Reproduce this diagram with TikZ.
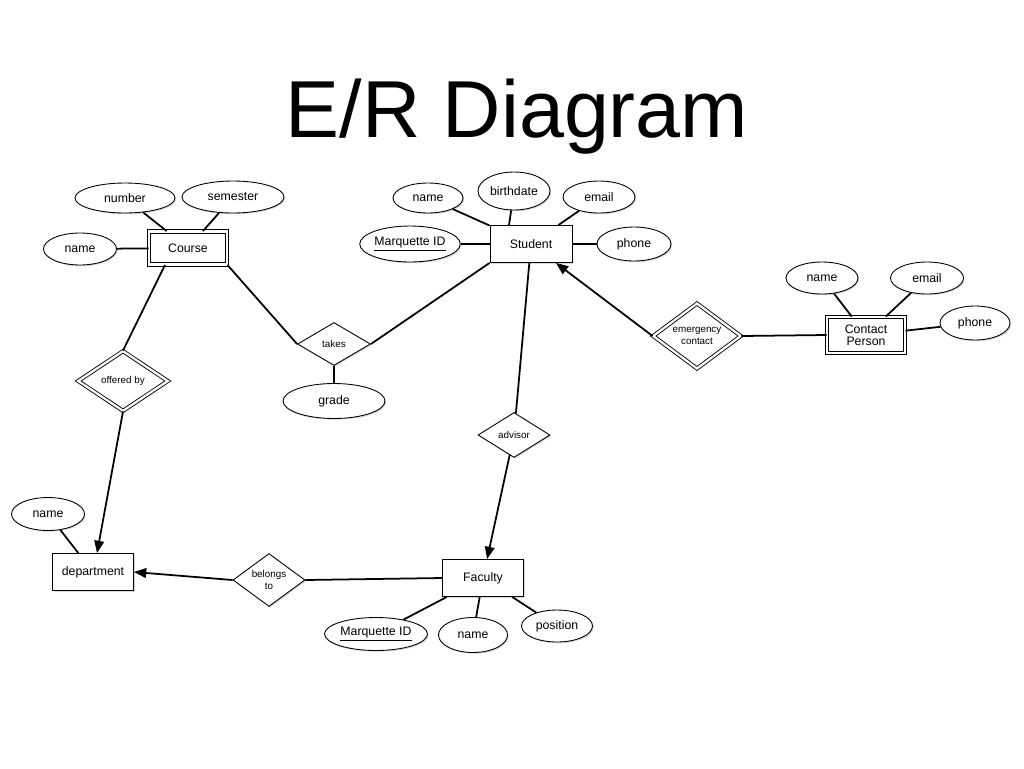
\documentclass[tikz,border=0pt]{standalone}
\usepackage{fontspec}
\setmainfont{Liberation Sans}
\usetikzlibrary{shapes.geometric,arrows.meta,shadows}

\tikzset{
  shade/.style={drop shadow={shadow xshift=0.7pt,shadow yshift=-0.7pt,opacity=0.3}},
  ent/.style={draw,rectangle,fill=white,shade,line width=0.5pt,inner sep=0pt,
    minimum width=1.62cm,minimum height=0.74cm,font=\fontsize{7}{8}\selectfont,align=center},
  weakent/.style={ent,double,double distance=1.3pt,minimum width=1.56cm,minimum height=0.66cm},
  attr/.style={draw,ellipse,fill=white,shade,line width=0.5pt,inner sep=0pt,
    minimum width=1.44cm,minimum height=0.64cm,font=\fontsize{7}{8}\selectfont},
  rel/.style={draw,diamond,fill=white,shade,line width=0.5pt,inner sep=0pt,
    minimum width=1.44cm,minimum height=0.88cm,font=\fontsize{5.6}{6.4}\selectfont,align=center},
  weakrel/.style={rel,double,double distance=1.3pt},
  link/.style={line width=1pt},
  toone/.style={link,-{Triangle[length=7pt,width=5.5pt]}}
}

\begin{document}
\begin{tikzpicture}[x=0.02cm,y=-0.02cm]
  \useasboundingbox (0,0) rectangle (1024,768);
  \node[anchor=base,font=\fontsize{46}{50}\selectfont] (title) at (517,137) {E/R Diagram};

  % entities
  \node[weakent] (course) at (188,248) {Course};
  \node[ent,minimum width=1.64cm] (student) at (531,244) {Student};
  \node[weakent,minimum height=0.72cm] (contact) at (866,335) {Contact\\[-1pt]Person};
  \node[ent] (dept) at (93,572) {department};
  \node[ent] (faculty) at (483,578) {Faculty};

  % relationships
  \node[rel,minimum width=1.46cm,minimum height=0.86cm] (takes) at (334,344) {takes};
  \node[weakrel,minimum width=1.8cm,minimum height=1.2cm] (offered) at (123,381) {offered by};
  \node[weakrel,minimum width=1.76cm,minimum height=1.24cm] (emerg) at (697,336) {emergency\\contact};
  \node[rel,minimum height=0.9cm] (advisor) at (514,435) {advisor};
  \node[rel] (belongs) at (269,580) {belongs\\to};

  % attributes
  \node[attr,minimum width=2cm,minimum height=0.6cm] (cnum) at (125,198) {number};
  \node[attr,minimum width=2.04cm] (csem) at (233,197) {semester};
  \node[attr,minimum width=1.46cm] (cname) at (80,249) {name};
  \node[attr,minimum width=1.4cm,minimum height=0.6cm] (sname) at (428,198) {name};
  \node[attr,minimum height=0.76cm] (sbirth) at (514,191) {birthdate};
  \node[attr] (semail) at (599,197) {email};
  \node[attr,minimum width=1.9cm,minimum height=0.72cm] (sid) at (410,244) {\underline{Marquette ID}};
  \node[attr,minimum width=1.48cm,minimum height=0.68cm] (sphone) at (634,244) {phone};
  \node[attr] (pname) at (822,278) {name};
  \node[attr,minimum width=1.46cm] (pemail) at (927,278) {email};
  \node[attr,minimum width=1.4cm,minimum height=0.68cm] (pphone) at (975,323) {phone};
  \node[attr,minimum width=2.04cm,minimum height=0.7cm] (grade) at (334,401) {grade};
  \node[attr,minimum width=1.46cm,minimum height=0.66cm] (dname) at (48,514) {name};
  \node[attr,minimum width=2.06cm,minimum height=0.66cm] (fid) at (376,634) {\underline{Marquette ID}};
  \node[attr,minimum width=1.38cm,minimum height=0.7cm] (fname) at (473,635) {name};
  \node[attr,minimum width=1.42cm] (fpos) at (557,626) {position};

  % attribute links
  \foreach \a/\e in {cnum/course, csem/course, cname/course, sname/student,
      semail/student, sid/student, sphone/student, pname/contact, pemail/contact,
      pphone/contact, dname/dept, fid/faculty, fname/faculty, fpos/faculty}
    \draw[link] (\a) -- (\e);
  \draw[link] (sbirth) -- ([xshift=-0.44cm]student.north);
  \draw[link] (takes) -- (grade);

  % relationship links
  \draw[link] (course.south east) -- (takes.west);
  \draw[link] (takes.east) -- (student.south west);
  \draw[link] ([xshift=-0.46cm]course.south) -- (offered.north);
  \draw[toone] (offered.south) -- ([xshift=4*0.02cm]dept.north);
  \draw[link] (student) -- (advisor);
  \draw[toone] (advisor) -- (faculty);
  \draw[link] (faculty.west) -- (belongs.east);
  \draw[toone] (belongs.west) -- (dept.east);
  \draw[link] (emerg.east) -- (contact.west);
  \draw[toone] (emerg.west) -- ([xshift=-0.33cm]student.south east);
\end{tikzpicture}
\end{document}
